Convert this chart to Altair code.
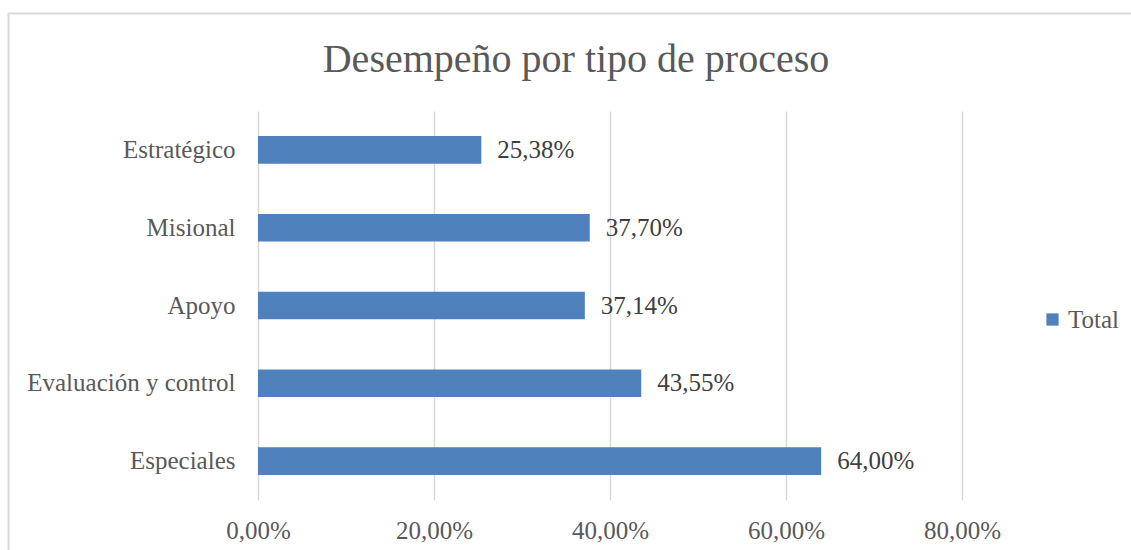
import altair as alt
import pandas as pd

categories = ["Estratégico", "Misional", "Apoyo", "Evaluación y control", "Especiales"]
values = [0.2538, 0.3770, 0.3714, 0.4355, 0.6400]
series_name = "Total"
title_text = "Desempeño por tipo de proceso"

df = pd.DataFrame({"cat": categories, "v": values, "serie": [series_name] * len(values)})

FONT = "Liberation Serif"
FS = 25
W, H = 704, 389
L, T = 258, 111

base = alt.Chart(df)

bars = base.mark_bar(color="#4F81BD").encode(
    x=alt.X("v:Q", scale=alt.Scale(domain=[0, 0.8], nice=False),
            axis=alt.Axis(values=[0, 0.2, 0.4, 0.6, 0.8], title=None,
                          labelExpr="replace(format(datum.value, '.2%'), '.', ',')",
                          labelFont=FONT, labelFontSize=FS, labelColor="#595959",
                          labelPadding=18, labelFlush=False, labelOverlap=False,
                          domain=False, ticks=False,
                          grid=True, gridColor="#D9D9D9", gridWidth=1.5)),
    y=alt.Y("cat:N", sort=categories,
            scale=alt.Scale(paddingInner=0.645, paddingOuter=0.3225),
            axis=alt.Axis(title=None, labelFont=FONT, labelFontSize=FS, labelColor="#595959",
                          labelPadding=23, labelLimit=400, domain=False, ticks=False, grid=False)),
    color=alt.Color("serie:N", scale=alt.Scale(range=["#4F81BD"]),
                    legend=alt.Legend(orient="none", legendX=782, legendY=196, title=None,
                                      symbolType="square", symbolSize=150, symbolStrokeWidth=0,
                                      labelFont=FONT, labelFontSize=FS, labelColor="#595959",
                                      labelOffset=3)),
)

labels = base.transform_calculate(
    lbl="replace(format(datum.v, '.2%'), '.', ',')"
).mark_text(align="left", baseline="middle", dx=16, font=FONT, fontSize=FS, color="#404040").encode(
    x="v:Q", y=alt.Y("cat:N", sort=categories), text="lbl:N"
)

title = alt.Chart(pd.DataFrame({"t": [title_text]})).mark_text(
    font=FONT, fontSize=40, color="#595959", align="center", baseline="alphabetic"
).encode(x=alt.value(318), y=alt.value(-39), text="t:N")

border_top = alt.Chart(pd.DataFrame({"a": [0]})).mark_rule(color="#D9D9D9", strokeWidth=2).encode(
    x=alt.value(-250), x2=alt.value(1131 - L + 5), y=alt.value(13.5 - T)
)
border_left = alt.Chart(pd.DataFrame({"a": [0]})).mark_rule(color="#D9D9D9", strokeWidth=2).encode(
    x=alt.value(8.5 - L), y=alt.value(13.5 - T), y2=alt.value(550 - T + 5)
)

chart = alt.layer(border_top, border_left, bars, labels, title).properties(
    width=W, height=H,
    background="white",
    autosize=alt.AutoSizeParams(type="none"),
    padding={"left": L, "top": T, "right": 1131 - L - W, "bottom": 550 - T - H},
).configure_view(stroke=None, strokeWidth=0)

chart.save("out.html", embed_options={"renderer": "svg", "actions": False})
